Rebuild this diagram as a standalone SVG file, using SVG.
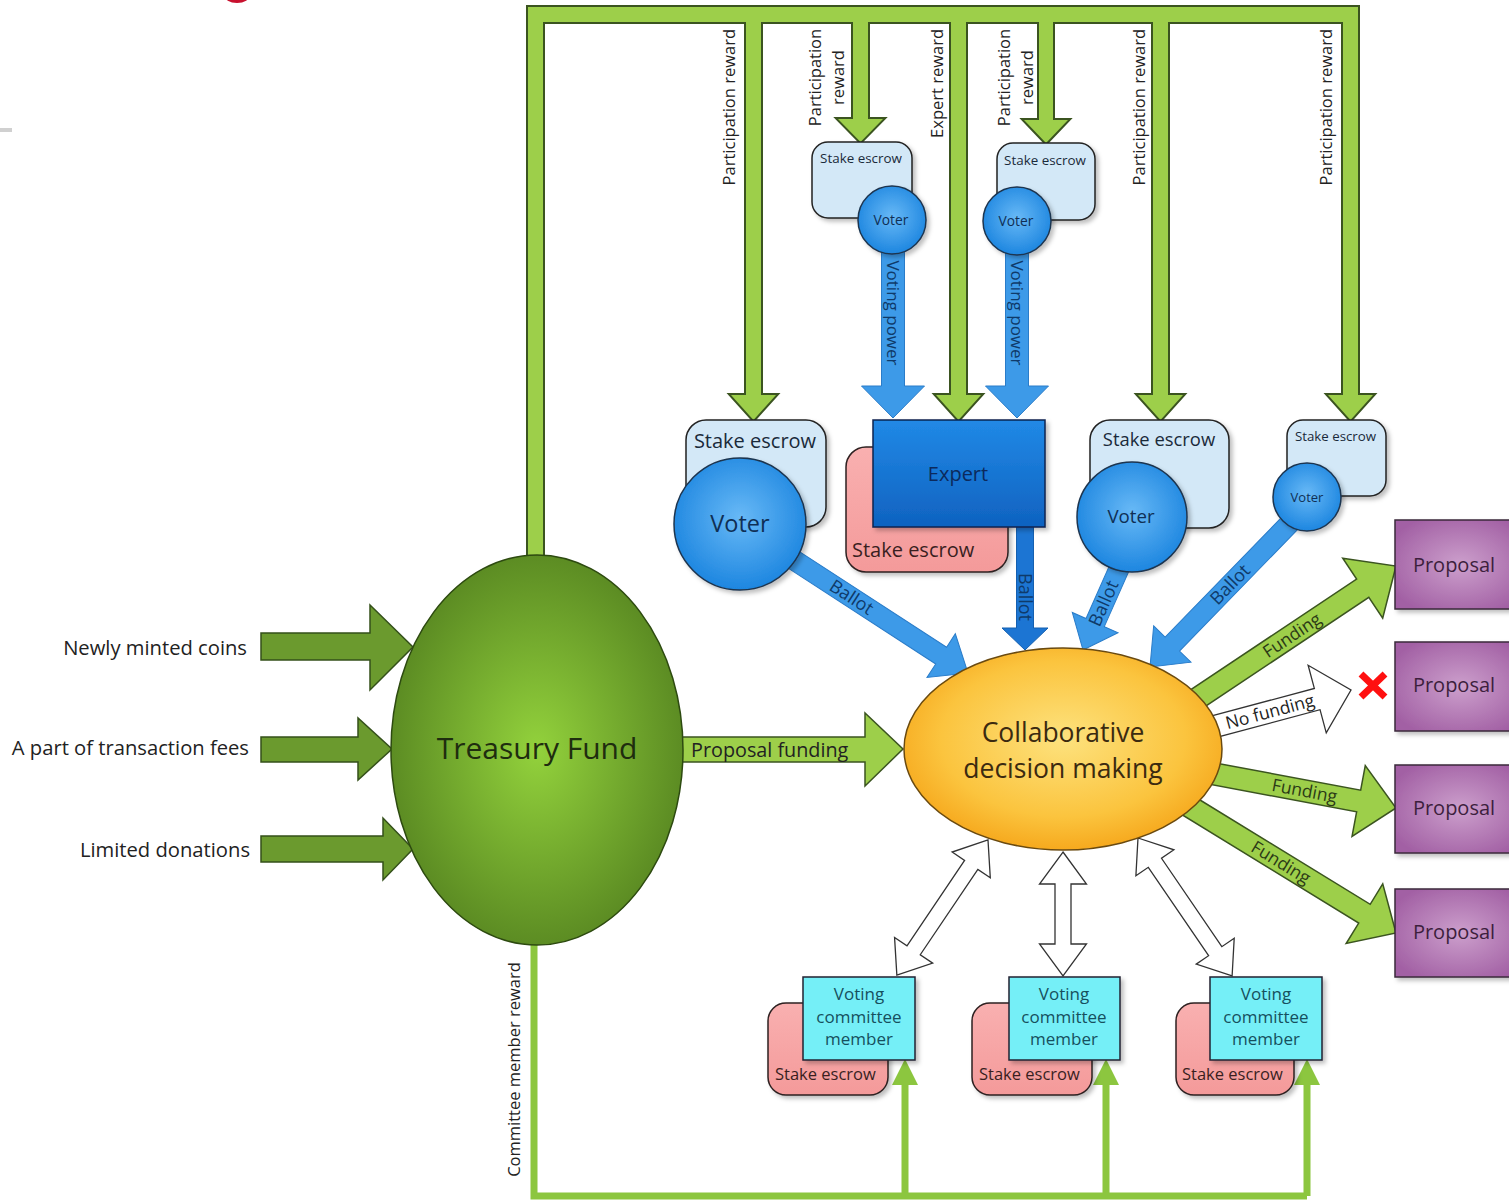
<svg xmlns="http://www.w3.org/2000/svg" width="1509" height="1200" viewBox="0 0 1509 1200">
<defs>
<style>
text{font-family:"Open Sans","Liberation Sans",sans-serif;fill:#222}
.frs{fill:none;stroke:#3b5420;stroke-width:4}
.frf{fill:#9dcf4a;stroke:none}
.lg{fill:#9dcf4a;stroke:#3b5420;stroke-width:1.5}
.dg{fill:#6b9a2e;stroke:#34501a;stroke-width:1.5}
.bl{fill:#3d9ae8;stroke:#2a7cc9;stroke-width:1}
.bd{fill:#1c75d3;stroke:#1560b0;stroke-width:1}
.wh{fill:#fff;stroke:#333;stroke-width:1.3}
.rw{fill:none;stroke:#8cc63f;stroke-width:7}
.rwh{fill:#8cc63f}
.sh{filter:url(#sh)}
.esc{fill:#d3e8f7;stroke:#222;stroke-width:1.5}
.pk{fill:url(#gPink);stroke:#2d2020;stroke-width:1.5}
.cy{fill:#75eff7;stroke:#223;stroke-width:1.5}
.vc{fill:url(#gVoter);stroke:#1d3550;stroke-width:1.5}
.prop{fill:url(#gProp);stroke:#3a2a3a;stroke-width:1.5}
.lbl{font-size:16.5px}
.ftx{font-size:17.5px;fill:#2b3a16}
.btx{font-size:18px;fill:#0f3a6a}
.vtx{fill:#0f2f55}
.etx{fill:#1a2a3a}
.ptx{font-size:20px;fill:#3d1f3d}
.ctx{font-size:17px;fill:#16505e}
.ktx{fill:#3a1f1f}
.itx{font-size:20.2px}
</style>
<filter id="sh" x="-15%" y="-15%" width="140%" height="140%"><feDropShadow dx="3" dy="3" stdDeviation="2" flood-color="#000" flood-opacity="0.25"/></filter>
<radialGradient id="gTreas" cx="50%" cy="50%" r="50%"><stop offset="0" stop-color="#93d23c"/><stop offset="1" stop-color="#5c8c23"/></radialGradient>
<radialGradient id="gCollab" cx="50%" cy="45%" r="55%"><stop offset="0" stop-color="#fde27e"/><stop offset="0.7" stop-color="#fbc43e"/><stop offset="1" stop-color="#f6a91e"/></radialGradient>
<radialGradient id="gProp" cx="50%" cy="50%" r="60%"><stop offset="0" stop-color="#cc9fcc"/><stop offset="1" stop-color="#a260a4"/></radialGradient>
<radialGradient id="gVoter" cx="50%" cy="45%" r="55%"><stop offset="0" stop-color="#68b9f6"/><stop offset="1" stop-color="#1d86e0"/></radialGradient>
<linearGradient id="gExpert" x1="0" y1="0" x2="0" y2="1"><stop offset="0" stop-color="#2189e6"/><stop offset="1" stop-color="#0f62c0"/></linearGradient>
<linearGradient id="gPink" x1="0" y1="0" x2="0" y2="1"><stop offset="0" stop-color="#f9b0b0"/><stop offset="1" stop-color="#f49a9a"/></linearGradient>
<g id="frame">
<rect x="528" y="7" width="830" height="15"/>
<rect x="528" y="7" width="15" height="560"/>
<polygon points="746,10 761,10 761,395 776,395 753.5,420 731,395 746,395"/>
<polygon points="853,10 868,10 868,119 883,119 860.5,142 838,119 853,119"/>
<polygon points="951,10 966,10 966,395 981,395 958.5,420 936,395 951,395"/>
<polygon points="1039,10 1053,10 1053,120 1068,120 1046,143 1024,120 1039,120"/>
<polygon points="1153,10 1168,10 1168,395 1183,395 1160.5,420 1138,395 1153,395"/>
<polygon points="1343,7 1358,7 1358,395 1373,395 1350.5,420 1328,395 1343,395"/>
</g>
</defs>
<rect width="1509" height="1200" fill="#fff"/>
<ellipse cx="237" cy="-5" rx="13" ry="8" fill="#c8102e"/>
<rect x="0" y="128" width="12" height="4" fill="#d0d0d0"/>

<g id="connectors">
  <!-- top reward frame -->
  <use href="#frame" class="frs"/>
  <use href="#frame" class="frf"/>
  <text class="lbl" transform="translate(735,29) rotate(-90)" text-anchor="end">Participation reward</text>
  <text class="lbl" transform="translate(821,77.5) rotate(-90)" text-anchor="middle">Participation<tspan x="0" y="23">reward</tspan></text>
  <text class="lbl" transform="translate(943,29) rotate(-90)" text-anchor="end">Expert reward</text>
  <text class="lbl" transform="translate(1010,77.5) rotate(-90)" text-anchor="middle">Participation<tspan x="0" y="23">reward</tspan></text>
  <text class="lbl" transform="translate(1145,29) rotate(-90)" text-anchor="end">Participation reward</text>
  <text class="lbl" transform="translate(1332,29) rotate(-90)" text-anchor="end">Participation reward</text>

  <!-- committee member reward -->
  <path class="rw" d="M534,900 V1196 H1307"/>
  <path class="rw" d="M905,1196 V1080 M1106,1196 V1080 M1307,1196 V1080"/>
  <polygon class="rwh" points="892,1085 905,1059 918,1085"/>
  <polygon class="rwh" points="1093,1085 1106,1059 1119,1085"/>
  <polygon class="rwh" points="1294,1085 1307,1059 1320,1085"/>
  <text class="lbl" transform="translate(520,1069.5) rotate(-90)" text-anchor="middle">Committee member reward</text>

  <!-- inputs -->
  <polygon class="dg" points="261,633 370,633 370,605 413,647 370,690 370,660 261,660"/>
  <polygon class="dg" points="261,737 358,737 358,718 392,749 358,780 358,762 261,762"/>
  <polygon class="dg" points="261,836 383,836 383,818 413,849 383,880 383,862 261,862"/>
  <text class="itx" x="247" y="655" text-anchor="end">Newly minted coins</text>
  <text class="itx" x="249" y="755" text-anchor="end">A part of transaction fees</text>
  <text class="itx" x="250" y="857" text-anchor="end">Limited donations</text>

  <!-- proposal funding -->
  <polygon class="lg" points="670,737 865,737 865,713 903,749 865,786 865,762 670,762"/>
  <text class="itx" x="691" y="757" style="font-size:19.8px">Proposal funding</text>

  <!-- funding outputs -->
  <g transform="translate(1396,566) rotate(-33.7)">
    <polygon class="lg" points="-260,-11 -40,-11 -40,-36 0,0 -40,36 -40,11 -260,11"/>
    <text class="ftx" x="-125" y="6" text-anchor="middle">Funding</text>
  </g>
  <g transform="translate(1351,690) rotate(-15)">
    <polygon class="wh" points="-150,-11 -35,-11 -35,-35 0,0 -35,35 -35,11 -150,11"/>
    <text class="ftx" x="-84" y="6" text-anchor="middle" style="fill:#222">No funding</text>
  </g>
  <g transform="translate(1396,808) rotate(10.6)">
    <polygon class="lg" points="-200,-11 -38,-11 -38,-36 0,0 -38,36 -38,11 -200,11"/>
    <text class="ftx" x="-93" y="6" text-anchor="middle">Funding</text>
  </g>
  <g transform="translate(1396,933) rotate(31.5)">
    <polygon class="lg" points="-250,-11 -37,-11 -37,-35 0,0 -37,35 -37,11 -250,11"/>
    <text class="ftx" x="-135" y="6" text-anchor="middle">Funding</text>
  </g>
  <path d="M1361,674 L1385,697 M1385,674 L1361,697" stroke="#ff1010" stroke-width="7" fill="none"/>

  <!-- voting power -->
  <g transform="translate(893,418) rotate(90)">
    <polygon class="bl" points="-170,-11.5 -32,-11.5 -32,-31.5 0,0 -32,31.5 -32,11.5 -170,11.5"/>
    <text class="btx" x="-105" y="6" text-anchor="middle" style="font-size:17px">Voting power</text>
  </g>
  <g transform="translate(1017,418) rotate(90)">
    <polygon class="bl" points="-170,-11.5 -32,-11.5 -32,-31.5 0,0 -32,31.5 -32,11.5 -170,11.5"/>
    <text class="btx" x="-105" y="6" text-anchor="middle" style="font-size:17px">Voting power</text>
  </g>

  <!-- ballots -->
  <g transform="translate(968,673) rotate(33)">
    <polygon class="bl" points="-230,-10 -32,-10 -32,-26 0,0 -32,26 -32,10 -230,10"/>
    <text class="btx" x="-139" y="6" text-anchor="middle">Ballot</text>
  </g>
  <g transform="translate(1025,650) rotate(90)">
    <polygon class="bd" points="-130,-8.5 -22,-8.5 -22,-23 0,0 -22,23 -22,8.5 -130,8.5"/>
    <text class="btx" x="-53" y="6" text-anchor="middle">Ballot</text>
  </g>
  <g transform="translate(1083,650) rotate(113.9)">
    <polygon class="bl" points="-110,-10 -30,-10 -30,-25 0,0 -30,25 -30,10 -110,10"/>
    <text class="btx" transform="translate(-51,0) rotate(180)" y="6" text-anchor="middle">Ballot</text>
  </g>
  <g transform="translate(1150,667) rotate(134.2)">
    <polygon class="bl" points="-210,-10 -32,-10 -32,-26 0,0 -32,26 -32,10 -210,10"/>
    <text class="btx" transform="translate(-115,0) rotate(180)" y="6" text-anchor="middle">Ballot</text>
  </g>

  <!-- committee double arrows -->
  <g transform="translate(988,840) rotate(124)">
    <polygon class="wh" points="0,0 30,-23 30,-8 133,-8 133,-23 163,0 133,23 133,8 30,8 30,23"/>
  </g>
  <g transform="translate(1063,852) rotate(90)">
    <polygon class="wh" points="0,0 32,-23.5 32,-8 92,-8 92,-23.5 124,0 92,23.5 92,8 32,8 32,23.5"/>
  </g>
  <g transform="translate(1138,838) rotate(55.7)">
    <polygon class="wh" points="0,0 30,-23 30,-8 137,-8 137,-23 167,0 137,23 137,8 30,8 30,23"/>
  </g>
</g>

<g id="treasury">
  <ellipse cx="537" cy="750" rx="146" ry="195" fill="url(#gTreas)" stroke="#2d4a10" stroke-width="1.5"/>
  <text x="537" y="759" font-size="30" text-anchor="middle" style="fill:#1f2d0f">Treasury Fund</text>
</g>
<g id="collab">
  <ellipse cx="1063" cy="749" rx="159" ry="101" fill="url(#gCollab)" stroke="#6a4a10" stroke-width="1.5"/>
  <text x="1063" y="742" font-size="26.5" text-anchor="middle" style="fill:#3b2a10">Collaborative</text>
  <text x="1063" y="778" font-size="26.5" text-anchor="middle" style="fill:#3b2a10">decision making</text>
</g>

<g id="voter-a">
  <rect class="esc sh" x="812" y="142" width="100" height="76" rx="16"/>
  <text class="etx" x="861" y="163" font-size="13.4" text-anchor="middle">Stake escrow</text>
  <circle class="vc sh" cx="892" cy="220" r="34"/>
  <text class="vtx" x="891" y="225" font-size="13.8" text-anchor="middle">Voter</text>
</g>
<g id="voter-b">
  <rect class="esc sh" x="997" y="143" width="98" height="77" rx="16"/>
  <text class="etx" x="1045" y="165" font-size="13.4" text-anchor="middle">Stake escrow</text>
  <circle class="vc sh" cx="1017" cy="221" r="34"/>
  <text class="vtx" x="1016" y="226" font-size="13.8" text-anchor="middle">Voter</text>
</g>
<g id="voter-1">
  <rect class="esc sh" x="686" y="420" width="140" height="107" rx="20"/>
  <text class="etx" x="755" y="448" font-size="20" text-anchor="middle">Stake escrow</text>
  <circle class="vc sh" cx="740" cy="524" r="66"/>
  <text class="vtx" x="740" y="532" font-size="23.5" text-anchor="middle">Voter</text>
</g>
<g id="expert">
  <rect class="pk sh" x="846" y="447" width="162" height="125" rx="20"/>
  <text class="ktx" x="852" y="557" font-size="20">Stake escrow</text>
  <rect class="sh" x="873" y="420" width="172" height="107" fill="url(#gExpert)" stroke="#0c2550" stroke-width="1.5"/>
  <text x="958" y="481" font-size="20" text-anchor="middle" style="fill:#0c2a5c">Expert</text>
</g>
<g id="voter-2">
  <rect class="esc sh" x="1090" y="420" width="139" height="108" rx="20"/>
  <text class="etx" x="1159" y="446" font-size="18.4" text-anchor="middle">Stake escrow</text>
  <circle class="vc sh" cx="1132" cy="517" r="55"/>
  <text class="vtx" x="1131" y="523" font-size="18.7" text-anchor="middle">Voter</text>
</g>
<g id="voter-3">
  <rect class="esc sh" x="1287" y="420" width="99" height="76" rx="16"/>
  <text class="etx" x="1335.5" y="441" font-size="13.3" text-anchor="middle">Stake escrow</text>
  <circle class="vc sh" cx="1307" cy="497" r="34"/>
  <text class="vtx" x="1307" y="502" font-size="13" text-anchor="middle">Voter</text>
</g>

<g id="proposal-1"><rect class="prop sh" x="1395" y="520" width="130" height="89"/><text class="ptx" x="1454" y="572" text-anchor="middle">Proposal</text></g>
<g id="proposal-2"><rect class="prop sh" x="1395" y="642" width="130" height="89"/><text class="ptx" x="1454" y="692" text-anchor="middle">Proposal</text></g>
<g id="proposal-3"><rect class="prop sh" x="1395" y="765" width="130" height="88"/><text class="ptx" x="1454" y="815" text-anchor="middle">Proposal</text></g>
<g id="proposal-4"><rect class="prop sh" x="1395" y="889" width="130" height="88"/><text class="ptx" x="1454" y="939" text-anchor="middle">Proposal</text></g>

<g id="committee-1">
  <rect class="pk sh" x="768" y="1003" width="120" height="92" rx="18"/>
  <text class="ktx" x="775" y="1080" font-size="16.5">Stake escrow</text>
  <rect class="cy sh" x="803" y="977" width="112" height="83"/>
  <text class="ctx" x="859" y="1000" text-anchor="middle">Voting</text>
  <text class="ctx" x="859" y="1023" text-anchor="middle">committee</text>
  <text class="ctx" x="859" y="1045" text-anchor="middle">member</text>
</g>
<g id="committee-2">
  <rect class="pk sh" x="972" y="1003" width="120" height="92" rx="18"/>
  <text class="ktx" x="979" y="1080" font-size="16.5">Stake escrow</text>
  <rect class="cy sh" x="1009" y="977" width="111" height="83"/>
  <text class="ctx" x="1064" y="1000" text-anchor="middle">Voting</text>
  <text class="ctx" x="1064" y="1023" text-anchor="middle">committee</text>
  <text class="ctx" x="1064" y="1045" text-anchor="middle">member</text>
</g>
<g id="committee-3">
  <rect class="pk sh" x="1176" y="1003" width="118" height="92" rx="18"/>
  <text class="ktx" x="1182" y="1080" font-size="16.5">Stake escrow</text>
  <rect class="cy sh" x="1210" y="977" width="112" height="83"/>
  <text class="ctx" x="1266" y="1000" text-anchor="middle">Voting</text>
  <text class="ctx" x="1266" y="1023" text-anchor="middle">committee</text>
  <text class="ctx" x="1266" y="1045" text-anchor="middle">member</text>
</g>
</svg>
